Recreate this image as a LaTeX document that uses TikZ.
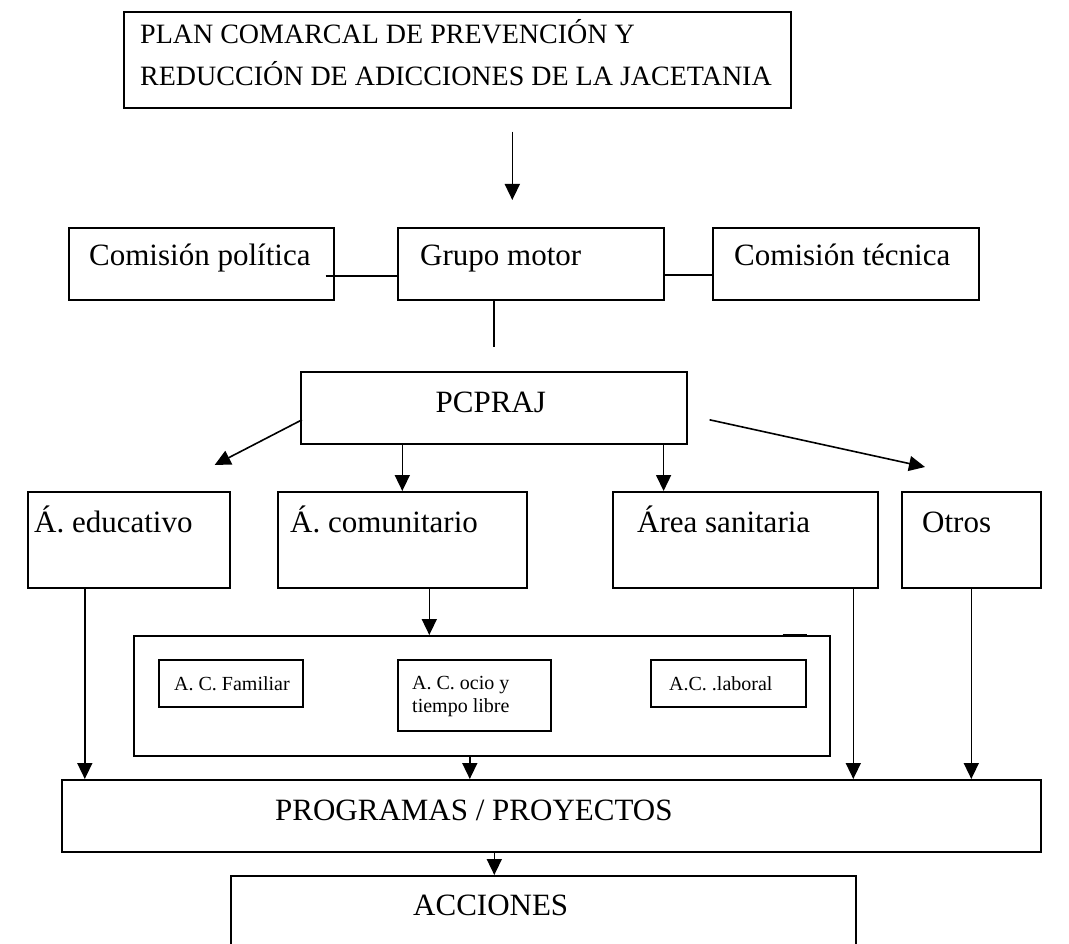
\documentclass[tikz,border=0pt]{standalone}
\usepackage{fontspec}
\setmainfont{Liberation Serif}
\usetikzlibrary{arrows.meta,calc}

\begin{document}
\begin{tikzpicture}[x=1pt,y=-1pt,
  box/.style={draw,line width=1.6pt,anchor=north west,inner sep=0pt},
  txt/.style={anchor=base west,inner sep=0pt,font=\fontsize{31}{36}\selectfont},
  smalltxt/.style={anchor=base west,inner sep=0pt,align=left,font=\fontsize{20}{23}\selectfont},
  link/.style={line width=1.6pt},
  flow/.style={-{Triangle[length=16pt,width=15pt]},line width=1.6pt}]
  \useasboundingbox (0,0) rectangle (1069,944);
  \node[box,minimum width=667pt,minimum height=96pt,
    label={[txt,anchor=north west,align=left,font=\fontsize{28}{42}\selectfont,xshift=17pt,yshift=-8pt]north west:{PLAN COMARCAL DE PREVENCIÓN Y\\REDUCCIÓN DE ADICCIONES DE LA JACETANIA}}] (plan) at (123,11) {};
  \node[box,minimum width=265pt,minimum height=72pt,
    label={[txt,xshift=21pt,yshift=-39pt]north west:Comisión política}] (cpol) at (68,227) {};
  \node[box,minimum width=266pt,minimum height=72pt,
    label={[txt,xshift=23pt,yshift=-39pt]north west:Grupo motor}] (grupo) at (397,227) {};
  \node[box,minimum width=266pt,minimum height=72pt,
    label={[txt,xshift=22pt,yshift=-39pt]north west:Comisión técnica}] (ctec) at (712,227) {};
  \node[box,minimum width=386pt,minimum height=72pt,
    label={[txt,anchor=base,xshift=-3pt,yshift=-41pt]north:PCPRAJ}] (pcpraj) at (300,371) {};
  \node[box,minimum width=202pt,minimum height=96pt,
    label={[txt,xshift=7pt,yshift=-41pt]north west:Á. educativo}] (edu) at (27,491) {};
  \node[box,minimum width=249pt,minimum height=96pt,
    label={[txt,xshift=13pt,yshift=-41pt]north west:Á. comunitario}] (comu) at (277,491) {};
  \node[box,minimum width=265pt,minimum height=96pt,
    label={[txt,xshift=25pt,yshift=-41pt]north west:Área sanitaria}] (sani) at (612,491) {};
  \node[box,minimum width=139pt,minimum height=96pt,
    label={[txt,xshift=21pt,yshift=-41pt]north west:Otros}] (otros) at (901,491) {};
  \node[box,minimum width=696pt,minimum height=120pt] (comarea) at (133,635) {};
  \node[box,minimum width=144pt,minimum height=47pt,
    label={[smalltxt,xshift=16pt,yshift=-31pt]north west:A. C. Familiar}] (fam) at (158,659) {};
  \node[box,minimum width=153pt,minimum height=71pt,
    label={[smalltxt,anchor=north west,xshift=15pt,yshift=-17pt]north west:{A. C. ocio y\\tiempo libre}}] (ocio) at (397,659) {};
  \node[box,minimum width=155pt,minimum height=47pt,
    label={[smalltxt,xshift=19pt,yshift=-31pt]north west:A.C. .laboral}] (lab) at (650,659) {};
  \node[box,minimum width=979pt,minimum height=72pt,
    label={[txt,xshift=214pt,yshift=-41pt]north west:PROGRAMAS / PROYECTOS}] (prog) at (61,779) {};
  \node[box,minimum width=625pt,minimum height=120pt,
    label={[txt,xshift=183pt,yshift=-40pt]north west:ACCIONES}] (acc) at (230,875) {};
  \draw[line width=3pt] ($(comarea.north east)+(-48,0)$) -- ++(24,0);
  \draw[flow] ($(plan.south)+(55,23)$) -- ($(plan.south |- grupo.north)+(55,-27)$);
  \draw[link] ($(cpol.east)+(-9,12)$) -- ($(grupo.west)+(0,12)$);
  \draw[link] ($(grupo.east)+(0,11)$) -- ($(ctec.west)+(0,11)$);
  \draw[link] (grupo.south -| pcpraj.north) -- ($(pcpraj.north)+(0,-24)$);
  \draw[flow] ($(pcpraj.west)+(2,12)$) -- ($(edu.north east)+(-16,-26)$);
  \draw[flow] (pcpraj.south -| comu.north) -- (comu.north);
  \draw[flow] ($(pcpraj.south east)+(-24,0)$) -- ($(pcpraj.south east |- sani.north)+(-24,0)$);
  \draw[flow] ($(pcpraj.east)+(22,12)$) -- ($(otros.north west)+(24,-24)$);
  \draw[flow] ($(edu.south)+(-44,0)$) -- ($(edu.south |- prog.north)+(-44,0)$);
  \draw[flow] ($(comu.south)+(27,0)$) -- ($(comu.south |- comarea.north)+(27,0)$);
  \draw[flow] ($(comarea.south)+(-12,0)$) -- ($(comarea.south |- prog.north)+(-12,0)$);
  \draw[flow] ($(sani.south)+(108,0)$) -- ($(sani.south |- prog.north)+(108,0)$);
  \draw[flow] (otros.south) -- (otros.south |- prog.north);
  \draw[flow] ($(prog.south)+(-57,0)$) -- ($(prog.south |- acc.north)+(-57,0)$);
\end{tikzpicture}
\end{document}
